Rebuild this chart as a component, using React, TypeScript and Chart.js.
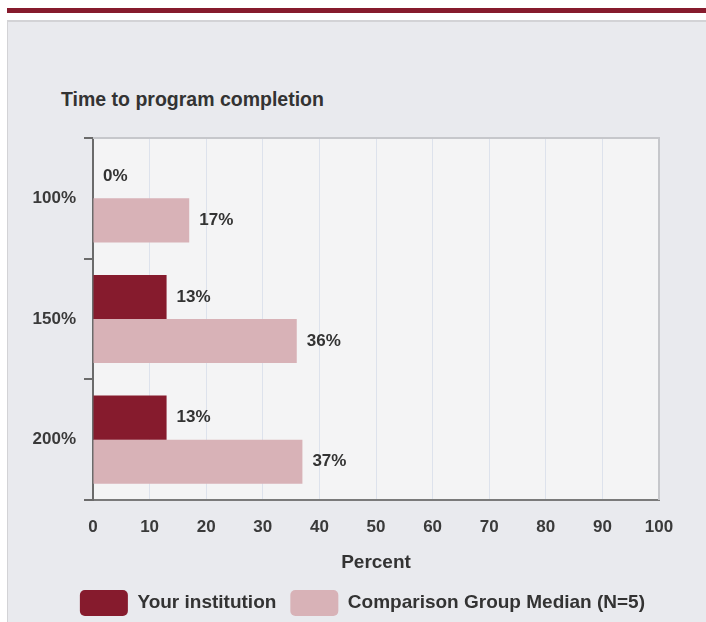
import React, { useEffect, useRef } from 'react';
import { Chart, registerables } from 'chart.js';

Chart.register(...registerables);

// ---- data ----
const chartTitle = 'Time to program completion';
const categories = ['100%', '150%', '200%'];
const seriesNames = ['Your institution', 'Comparison Group Median (N=5)'];
const yourInstitution = [0, 13, 13];
const comparisonMedian = [17, 36, 37];
const xAxisTitle = 'Percent';
const xMin = 0;
const xMax = 100;
const xStep = 10;

const FONT = "'Liberation Sans', Arial, Helvetica, sans-serif";
const DARK = '#861b2d';
const PINK = '#d8b2b7';

const plotBackground = {
  id: 'plotBackground',
  beforeDraw(chart: any) {
    const { ctx, chartArea: a } = chart;
    ctx.save();
    ctx.fillStyle = '#f4f4f5';
    ctx.fillRect(a.left, a.top, a.right - a.left, a.bottom - a.top);
    ctx.restore();
  },
  afterDatasetsDraw(chart: any) {
    const { ctx, chartArea: a } = chart;
    ctx.save();
    ctx.strokeStyle = '#c6c7cb';
    ctx.lineWidth = 2;
    ctx.beginPath();
    ctx.moveTo(a.left, a.top);
    ctx.lineTo(a.right, a.top);
    ctx.lineTo(a.right, a.bottom);
    ctx.stroke();
    ctx.restore();
  },
};

const valueLabels = {
  id: 'valueLabels',
  afterDatasetsDraw(chart: any) {
    const { ctx } = chart;
    ctx.save();
    ctx.font = `bold 17px ${FONT}`;
    ctx.fillStyle = '#333333';
    ctx.textAlign = 'left';
    ctx.textBaseline = 'middle';
    chart.data.datasets.forEach((ds: any, di: number) => {
      const meta = chart.getDatasetMeta(di);
      meta.data.forEach((el: any, i: number) => {
        ctx.fillText(`${ds.data[i]}%`, el.x + 10, el.y);
      });
    });
    ctx.restore();
  },
};

function BarChart() {
  const ref = useRef<HTMLCanvasElement | null>(null);
  useEffect(() => {
    if (!ref.current) return;
    Chart.defaults.font.family = FONT;
    const chart = new Chart(ref.current, {
      type: 'bar',
      data: {
        labels: categories,
        datasets: [
          {
            label: seriesNames[0],
            data: yourInstitution,
            backgroundColor: DARK,
            borderWidth: 0,
            barPercentage: 1,
            categoryPercentage: 0.73,
          },
          {
            label: seriesNames[1],
            data: comparisonMedian,
            backgroundColor: PINK,
            borderWidth: 0,
            barPercentage: 1,
            categoryPercentage: 0.73,
          },
        ],
      },
      options: {
        indexAxis: 'y',
        animation: false,
        responsive: false,
        devicePixelRatio: 1,
        layout: { padding: { top: 138, left: 0, right: 47, bottom: 0 } },
        scales: {
          x: {
            min: xMin,
            max: xMax,
            ticks: {
              stepSize: xStep,
              padding: 17,
              color: '#3a3a3a',
              font: { family: FONT, size: 17, weight: 'bold' },
            },
            grid: { color: '#dde2ec', lineWidth: 1, drawTicks: false },
            border: { display: true, color: '#7a7a7a', width: 2 },
            title: {
              display: true,
              text: xAxisTitle,
              color: '#333333',
              font: { family: FONT, size: 19, weight: 'bold', lineHeight: 1 },
              padding: { top: 0, bottom: 3.5 },
            },
            afterFit: (s: any) => {
              s.height = 76;
            },
          },
          y: {
            ticks: {
              padding: 8,
              color: '#3a3a3a',
              font: { family: FONT, size: 17, weight: 'bold' },
            },
            grid: {
              drawOnChartArea: false,
              drawTicks: true,
              tickLength: 9,
              color: '#6b6b6b',
              lineWidth: 2,
            },
            border: { display: true, color: '#6b6b6b', width: 2 },
            afterFit: (s: any) => {
              s.width = 93;
            },
          },
        },
        plugins: {
          legend: {
            position: 'bottom',
            align: 'end',
            labels: {
              boxWidth: 48,
              boxHeight: 26,
              padding: 14,
              useBorderRadius: true,
              borderRadius: 5,
              color: '#333333',
              font: { family: FONT, size: 19, weight: 'bold' },
            },
          },
          tooltip: { enabled: false },
        },
      } as any,
      plugins: [plotBackground, valueLabels],
    });
    return () => chart.destroy();
  }, []);
  return (
    <canvas
      ref={ref}
      width={706}
      height={626}
      style={{ position: 'absolute', left: 0, top: 0, width: 706, height: 626, display: 'block' }}
    />
  );
}

export default function App() {
  return (
    <div
      style={{
        position: 'absolute',
        left: 0,
        top: 0,
        width: 706,
        height: 622,
        overflow: 'hidden',
        background: '#ffffff',
      }}
    >
      <div style={{ position: 'absolute', left: 7, top: 8, width: 699, height: 5, background: DARK }} />
      <div
        style={{
          position: 'absolute',
          left: 7,
          top: 20,
          width: 699,
          height: 602,
          background: '#e9eaee',
          borderTop: '2px solid #d3d3d6',
          borderLeft: '1px solid #d3d3d6',
          boxSizing: 'border-box',
        }}
      />
      <div
        style={{
          position: 'absolute',
          left: 61,
          top: 88,
          fontFamily: FONT,
          fontWeight: 'bold',
          fontSize: 19.5,
          lineHeight: '22px',
          color: '#333333',
          whiteSpace: 'nowrap',
        }}
      >
        {chartTitle}
      </div>
      <BarChart />
    </div>
  );
}
